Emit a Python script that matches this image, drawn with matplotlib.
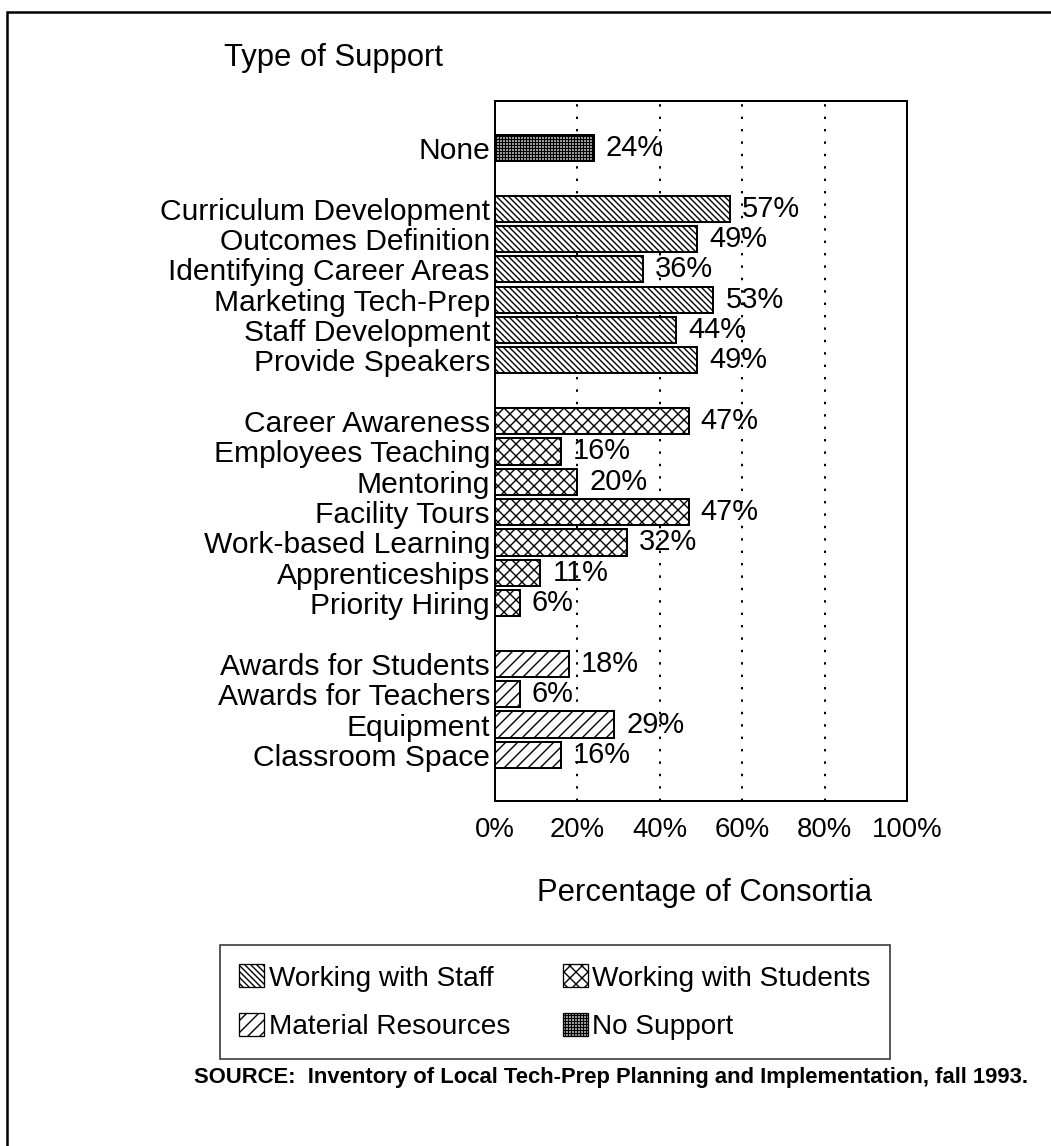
import matplotlib
matplotlib.use("Agg")
import matplotlib.pyplot as plt
from matplotlib.patches import Patch, Rectangle

# categories and values, top to bottom, grouped by support type
none_labels = ["None"]
none_values = [24]

staff_labels = ["Curriculum Development", "Outcomes Definition",
                "Identifying Career Areas", "Marketing Tech-Prep",
                "Staff Development", "Provide Speakers"]
staff_values = [57, 49, 36, 53, 44, 49]

student_labels = ["Career Awareness", "Employees Teaching", "Mentoring",
                  "Facility Tours", "Work-based Learning", "Apprenticeships",
                  "Priority Hiring"]
student_values = [47, 16, 20, 47, 32, 11, 6]

material_labels = ["Awards for Students", "Awards for Teachers", "Equipment",
                   "Classroom Space"]
material_values = [18, 6, 29, 16]

legend_names = ["Working with Staff", "Working with Students",
                "Material Resources", "No Support"]
xtick_values = [0, 20, 40, 60, 80, 100]

plt.rcParams["font.family"] = ["Liberation Sans", "DejaVu Sans"]
plt.rcParams["hatch.linewidth"] = 1.4

HATCH_STAFF = "\\\\\\\\"
HATCH_STUDENT = "xx"
HATCH_MATERIAL = "//"
HATCH_NONE = "++++"

W, H = 1051, 1146
fig = plt.figure(figsize=(W / 72, H / 72), dpi=72)
ax = fig.add_axes([495 / W, 1 - 801 / H, (907 - 495) / W, (801 - 101) / H])

groups = [
    (none_labels, none_values, HATCH_NONE),
    (staff_labels, staff_values, HATCH_STAFF),
    (student_labels, student_values, HATCH_STUDENT),
    (material_labels, material_values, HATCH_MATERIAL),
]

ticks, tick_labels = [], []
row = 0
for labels, values, hatch in groups:
    ys = list(range(row, row + len(labels)))
    bars = ax.barh(ys, values, height=0.86, color="white", edgecolor="black",
                   linewidth=2, hatch=hatch, zorder=3)
    ax.bar_label(bars, labels=[f"{v}%" for v in values], padding=12,
                 fontsize=29)
    ticks += ys
    tick_labels += labels
    row += len(labels) + 1

ax.set_ylim(row - 1 + 0.52, -1.55)
ax.set_xlim(0, 100)
ax.set_yticks(ticks)
ax.set_yticklabels(tick_labels, fontsize=30)
ax.set_xticks(xtick_values)
ax.set_xticklabels([f"{v}%" for v in xtick_values], fontsize=27.5)
ax.tick_params(length=0)
ax.tick_params(axis="y", pad=5)
ax.tick_params(axis="x", pad=16)
for s in ax.spines.values():
    s.set_linewidth(2)

for v in xtick_values[1:-1]:
    ax.axvline(v, color="black", linestyle=(0, (1.2, 5)), linewidth=2, zorder=1)

fig.text(333 / W, 1 - 58 / H, "Type of Support", fontsize=31,
         ha="center", va="center")
fig.text(705 / W, 1 - 893 / H, "Percentage of Consortia", fontsize=31,
         ha="center", va="center")

# legend is filled column by column, so order for rows: staff|students, material|none
hatches = [HATCH_STAFF, HATCH_STUDENT, HATCH_MATERIAL, HATCH_NONE]
order = [0, 2, 1, 3]
handles = [Patch(facecolor="white", edgecolor="black", hatch=hatches[i],
                 linewidth=1.3) for i in order]
leg = fig.legend(handles, [legend_names[i] for i in order], ncol=2,
                 loc="center", bbox_to_anchor=(555 / W, 1 - 1002 / H),
                 fontsize=28, frameon=True, fancybox=False, edgecolor="black",
                 handlelength=0.9, handleheight=0.9, handletextpad=0.15,
                 columnspacing=1.9, labelspacing=0.75, borderpad=0.7)
leg.get_frame().set_linewidth(1.6)

fig.text(611 / W, 1 - 1078 / H,
         "SOURCE:  Inventory of Local Tech-Prep Planning and Implementation, fall 1993.",
         fontsize=22, fontweight="bold", ha="center", va="center")

# page border (left and top edges of the scanned frame)
fig.add_artist(Rectangle((7 / W, -0.05), 1.2, 1 - 12 / H + 0.05,
                         transform=fig.transFigure, fill=False,
                         edgecolor="black", linewidth=2.5, clip_on=False))

fig.savefig("out.png", dpi=72, facecolor="white")
